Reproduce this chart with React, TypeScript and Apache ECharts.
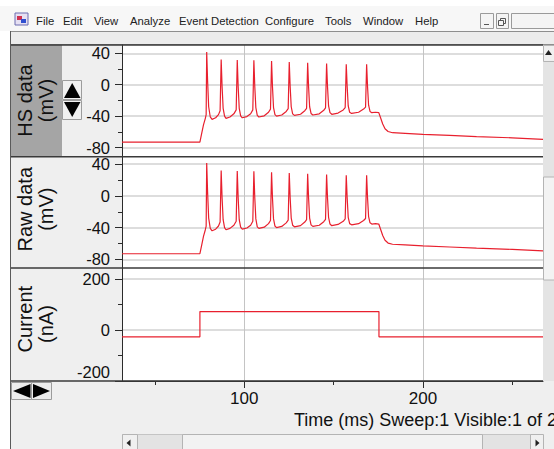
import React, { useEffect, useRef } from "react";
import * as echarts from "echarts";

// ---------- data ----------
const menuItems = ["File", "Edit", "View", "Analyze", "Event Detection", "Configure", "Tools", "Window", "Help"];
const menuItemX = [36, 63, 94, 130, 179, 265, 325, 363, 415];

const panelTitles = ["HS data", "Raw data", "Current"];
const panelUnits = ["(mV)", "(mV)", "(nA)"];
const xAxisTitle = "Time (ms) Sweep:1 Visible:1 of 2";

const timeRange = [31.6, 267.2];
const timeTicks = [100, 200];
const timeMinorTicks = [50, 150, 250];

const hsRange = [-91.5, 50.5];
const rawRange = [-91, 49.5];
const voltageTicks = [-80, -40, 0, 40];
const voltageMinorTicks = [-60, -20, 20];

const currentRange = [-200, 243];
const currentTicks = [-200, 0, 200];
const currentMinorTicks = [-100, 100];

// membrane potential (ms, mV)
const voltageTrace: [number, number][] = [
  [31.6, -73], [75.2, -73], [76.2, -62], [77.2, -51], [78.2, -43], [78.7, -38],
  [79.0, 41.5], [79.5, 5], [80.1, -28], [81.0, -41], [82.0, -44], [84.0, -42], [85.6, -38], [86.5, -33],
  [87.1, 32], [87.6, -2], [88.2, -30], [89.0, -40], [89.8, -42.7], [92.0, -41], [94.2, -37], [95.5, -32],
  [96.1, 31.4], [96.6, -2], [97.2, -30], [98.0, -39.5], [98.9, -42], [101.5, -40.5], [103.6, -37], [104.8, -32],
  [105.4, 31], [105.9, -2], [106.5, -29], [107.3, -39], [108.2, -41], [111.2, -39.5], [113.6, -35], [114.7, -31],
  [115.3, 30], [115.8, -2], [116.4, -29], [117.2, -38], [118.1, -40], [121.0, -38.5], [123.5, -34], [124.6, -30.5],
  [125.2, 29], [125.7, -2], [126.3, -28], [127.1, -37], [128.1, -39], [131.5, -37.5], [133.9, -33], [134.9, -30],
  [135.5, 28], [136.0, -2], [136.6, -28], [137.4, -36.5], [138.4, -38.5], [142.0, -37], [144.5, -32.5], [145.5, -29.5],
  [146.1, 27], [146.6, -2], [147.2, -27], [148.0, -35.5], [149.0, -37.6], [152.5, -36], [155.4, -32], [156.5, -29],
  [157.1, 26], [157.6, -2], [158.2, -27], [159.0, -35], [160.1, -36.5], [164.0, -35], [166.8, -31], [167.9, -28.5],
  [168.5, 26], [169.0, -2], [169.6, -26], [170.4, -34], [171.4, -35.5], [173.5, -35], [175.3, -35.5],
  [176.3, -42], [177.5, -50], [178.8, -56], [180.5, -59.5], [183.0, -61], [190.0, -61.8], [200.0, -63],
  [215.0, -64.5], [230.0, -66], [250.0, -67.5], [267.2, -69.5],
];

// injected current (ms, nA)
const currentTrace: [number, number][] = [
  [31.6, -27], [75.2, -27], [75.2, 72], [175.4, 72], [175.4, -27], [267.2, -27],
];

// ---------- layout / style ----------
const L = 122;
const R = 543;
const tops = [45, 156.7, 268, 381];
const FONT = "'Liberation Sans', Arial, sans-serif";
const RED = "#e8202e";
const AXIS = "#2b2b2b";

function rect(x: number, y: number, w: number, h: number, fill: string, stroke?: string, z = -10) {
  return {
    type: "rect",
    shape: { x, y, width: w, height: h },
    style: { fill, stroke: stroke || null, lineWidth: 1 },
    z,
    silent: true,
  };
}
function line(x1: number, y1: number, x2: number, y2: number, stroke: string, w = 1, z = 100) {
  return { type: "line", shape: { x1, y1, x2, y2 }, style: { stroke, lineWidth: w }, z, silent: true };
}
function tri(points: number[][], fill = "#000", z = 110) {
  return { type: "polygon", shape: { points }, style: { fill }, z, silent: true };
}
function text(t: string, x: number, y: number, size: number, opts: any = {}) {
  return {
    type: "text",
    x,
    y,
    rotation: opts.rotation || 0,
    style: {
      text: t,
      fontSize: size,
      fontFamily: FONT,
      fill: opts.fill || "#111",
      align: opts.align || "left",
      verticalAlign: opts.verticalAlign || "middle",
      lineHeight: opts.lineHeight || size,
    },
    z: 120,
    silent: true,
  };
}

function buildOption() {
  const ranges = [hsRange, rawRange, currentRange];
  const majors = [voltageTicks, voltageTicks, currentTicks];
  const minors = [voltageMinorTicks, voltageMinorTicks, currentMinorTicks];

  const grid = [0, 1, 2].map((i) => ({
    left: L,
    top: tops[i],
    width: R - L,
    height: tops[i + 1] - tops[i],
    show: true,
    backgroundColor: "#ffffff",
    borderWidth: 0,
  }));

  const xAxis: any[] = [0, 1, 2].map((i) => ({
    type: "value",
    gridIndex: i,
    position: "bottom",
    min: timeRange[0],
    max: timeRange[1],
    axisLine: { show: i === 2, onZero: false, lineStyle: { color: AXIS, width: 1 } },
    axisTick: { show: i === 2, customValues: timeTicks, length: 7, lineStyle: { color: AXIS } },
    axisLabel: {
      show: i === 2,
      customValues: timeTicks,
      margin: 10,
      fontSize: 17,
      lineHeight: 14,
      color: "#111",
      fontFamily: FONT,
    },
    splitLine: { show: true, lineStyle: { color: "#c4c4c4", width: 1 } },
  }));
  xAxis.push({
    type: "value",
    gridIndex: 2,
    position: "bottom",
    min: timeRange[0],
    max: timeRange[1],
    axisLine: { show: false, onZero: false },
    axisTick: { show: true, customValues: timeMinorTicks, length: 4, lineStyle: { color: AXIS } },
    axisLabel: { show: false },
    splitLine: { show: false },
  });

  const yAxis: any[] = [];
  [0, 1, 2].forEach((i) => {
    const lowest = majors[i][0];
    yAxis.push({
      type: "value",
      gridIndex: i,
      position: "left",
      min: ranges[i][0],
      max: ranges[i][1],
      axisLine: { show: true, onZero: false, lineStyle: { color: AXIS, width: 1 } },
      axisTick: { show: true, customValues: majors[i], length: 7, lineStyle: { color: AXIS } },
      axisLabel: {
        customValues: majors[i],
        margin: 12,
        fontSize: 16.5,
        lineHeight: 13,
        color: "#111",
        fontFamily: FONT,
        ...(i === 2
          ? {
              verticalAlignMinLabel: "bottom",
              formatter: (v: number) => (v === lowest ? "{lo|" + v + "}" : String(v)),
              rich: {
                lo: { fontSize: 16.5, lineHeight: 13, color: "#111", fontFamily: FONT, padding: [0, 0, 5, 0] },
              },
            }
          : {}),
      },
      splitLine: { show: true, lineStyle: { color: "#d2d2d2", width: 1.5 } },
    });
    yAxis.push({
      type: "value",
      gridIndex: i,
      position: "left",
      min: ranges[i][0],
      max: ranges[i][1],
      axisLine: { show: false, onZero: false },
      axisTick: { show: true, customValues: minors[i], length: 4, lineStyle: { color: AXIS } },
      axisLabel: { show: false },
      splitLine: { show: false },
    });
  });

  const seriesBase = {
    type: "line",
    showSymbol: false,
    symbol: "none",
    silent: true,
    lineStyle: { color: RED, width: 1.2 },
    emphasis: { disabled: true },
    z: 5,
  };
  const series = [
    { ...seriesBase, xAxisIndex: 0, yAxisIndex: 0, data: voltageTrace },
    { ...seriesBase, xAxisIndex: 1, yAxisIndex: 2, data: voltageTrace },
    { ...seriesBase, xAxisIndex: 2, yAxisIndex: 4, data: currentTrace },
  ];

  const g: any[] = [];
  // window chrome backgrounds
  g.push(rect(0, 0, 554, 449, "#ffffff", undefined, -30));
  g.push(rect(0, 6, 554, 25, "#f7f7f7", undefined, -20));
  g.push(rect(10.5, 31.5, 544, 13, "#ececec", "#8e8e8e", -20));
  // app icon
  g.push(rect(15, 13, 13, 12, "#e6e0f2", "#6c6cb0", 5));
  g.push(rect(17, 16, 5, 4, "#d03050", undefined, 6));
  g.push(rect(21, 19, 5, 4, "#3050d0", undefined, 6));
  // menu
  menuItems.forEach((m, i) => g.push(text(m, menuItemX[i], 20.5, 11.3, { fill: "#222" })));
  // window buttons
  g.push(rect(480.5, 13.5, 13, 15, "#f4f4f4", "#9a9a9a", 5));
  g.push(rect(496.5, 13.5, 12, 15, "#f4f4f4", "#9a9a9a", 5));
  g.push(rect(511.5, 13.5, 50, 15, "#f4f4f4", "#9a9a9a", 5));
  g.push(line(484, 24.5, 489, 24.5, "#555", 1, 6));
  g.push(rect(500.5, 18.5, 5, 5, "none", "#555", 6));
  g.push(rect(498.5, 20.5, 5, 5, "#f4f4f4", "#555", 7));

  // left panel areas
  g.push(rect(10, tops[0], 52, tops[1] - tops[0], "#a5a5a5"));
  g.push(rect(62, tops[0], L - 62, tops[1] - tops[0], "#efefef"));
  g.push(rect(10, tops[1], L - 10, tops[3] - tops[1], "#efefef"));
  // bottom area
  g.push(rect(10, tops[3], 544, 449 - tops[3], "#efefef"));
  // right scroll column
  g.push(rect(R, tops[0], 554 - R, tops[3] - tops[0], "#e4e4e4", undefined, 50));
  g.push(rect(R + 0.5, tops[0] + 0.5, 12, 16, "#f0f0f0", "#b4b4b4", 51));
  g.push(rect(R + 0.5, 177, 12, 103, "#f3f3f3", "#b4b4b4", 51));
  g.push(tri([[548.5, 50], [545, 55], [552, 55]], "#222", 52));

  // separators
  for (let i = 0; i < 4; i++) g.push(line(10, tops[i], R, tops[i], "#3a3a3a", 1.5));
  g.push(line(10.5, 31, 10.5, 449, "#5a5a5a", 1));

  // up / down buttons
  g.push(rect(62.5, 80.5, 19, 19, "#f0f0f0", "#9c9c9c", 100));
  g.push(rect(62.5, 100.5, 19, 19, "#f0f0f0", "#9c9c9c", 100));
  g.push(tri([[64, 98], [80.5, 98], [72.2, 83]]));
  g.push(tri([[64, 102], [80.5, 102], [72.2, 117]]));

  // left / right buttons
  g.push(rect(11.5, 382.5, 20, 17, "#ececec", "#9c9c9c", 100));
  g.push(rect(31.5, 382.5, 20, 17, "#ececec", "#9c9c9c", 100));
  g.push(tri([[13, 391], [30.5, 384], [30.5, 398]]));
  g.push(tri([[33, 384], [33, 398], [50, 391]]));

  // bottom scrollbar
  g.push(rect(122.5, 434.5, 420, 16, "#e3e3e3", "#c4c4c4", 100));
  g.push(rect(122.5, 434.5, 15, 16, "#f0f0f0", "#b4b4b4", 101));
  g.push(rect(182.5, 434.5, 300, 16, "#f2f2f2", "#b4b4b4", 101));
  g.push(rect(530.5, 434.5, 13, 16, "#f0f0f0", "#b4b4b4", 101));
  g.push(tri([[126.5, 443], [130.5, 439.5], [130.5, 446.5]], "#222", 102));
  g.push(tri([[535.5, 439.5], [535.5, 446.5], [539.5, 443]], "#222", 102));

  // axis titles
  const titleY = [100.5, 209.2, 319.2];
  const unitY = [100.5, 209.2, 324];
  for (let i = 0; i < 3; i++) {
    g.push(text(panelTitles[i], 25, titleY[i], 20, { rotation: Math.PI / 2, align: "center" }));
    g.push(text(panelUnits[i], 46, unitY[i], 20, { rotation: Math.PI / 2, align: "center" }));
  }
  g.push(text(xAxisTitle, 294, 420, 18));

  return {
    animation: false,
    backgroundColor: "#ffffff",
    grid,
    xAxis,
    yAxis,
    series,
    graphic: { elements: g },
  };
}

export default function App() {
  const ref = useRef<HTMLDivElement>(null);
  useEffect(() => {
    const chart = echarts.init(ref.current as HTMLDivElement, null, { renderer: "svg" });
    chart.setOption(buildOption() as any);
    return () => chart.dispose();
  }, []);
  return (
    <div
      ref={ref}
      style={{ position: "fixed", left: 0, top: 0, width: 554, height: 449, background: "#fff" }}
    />
  );
}
